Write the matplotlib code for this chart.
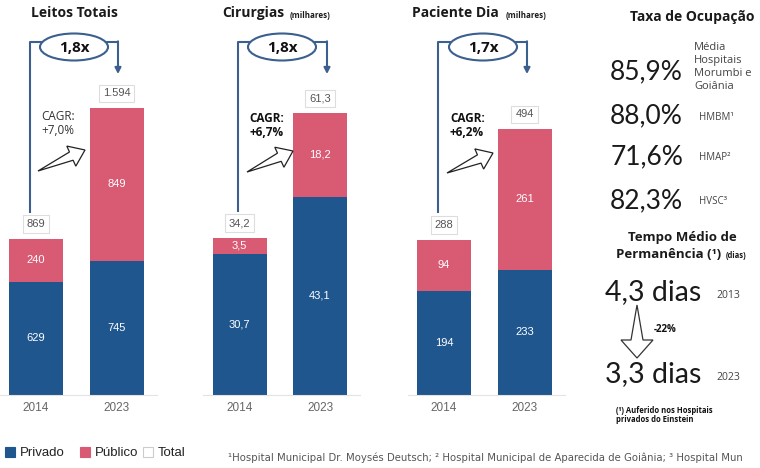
import matplotlib
matplotlib.use('Agg')
import math
import matplotlib.pyplot as plt
from matplotlib.patches import Rectangle, Ellipse, Polygon

# ---------------- data ----------------
years = ['2014', '2023']
panel_titles = ['Leitos Totais', 'Cirurgias', 'Paciente Dia']
panel_units = ['', '(milhares)', '(milhares)']
privado = [[629, 745], [30.7, 43.1], [194, 233]]
publico = [[240, 849], [3.5, 18.2], [94, 261]]
totais = [[869, 1594], [34.2, 61.3], [288, 494]]
decimals = [0, 1, 0]
growth_lbl = ['1,8x', '1,8x', '1,7x']
cagr_lbl = ['CAGR:\n+7,0%', 'CAGR:\n+6,7%', 'CAGR:\n+6,2%']
cagr_bold = [False, True, True]

ocup_title = 'Taxa de Ocupação'
ocup_vals = ['85,9%', '88,0%', '71,6%', '82,3%']
ocup_lbls = ['Média\nHospitais\nMorumbi e\nGoiânia', 'HMBM¹', 'HMAP²', 'HVSC³']
perm_vals = ['4,3 dias', '3,3 dias']
perm_years = ['2013', '2023']
perm_change = '-22%'
legend_lbls = ['Privado', 'Público', 'Total']
footnote = ('¹Hospital Municipal Dr. Moysés Deutsch; ² Hospital Municipal de Aparecida de Goiânia; '
            '³ Hospital Mun')

# ---------------- style ----------------
BLUE = '#1f568e'
PINK = '#d95a73'
LINE = '#3b5f8e'
SANS = ['Open Sans', 'DejaVu Sans']
ARIAL = ['Liberation Sans', 'DejaVu Sans']
BIG = ['Lato', 'DejaVu Sans']

W, H = 760, 468
fig = plt.figure(figsize=(W / 100, H / 100), dpi=100)


def fmt(v, d):
    if d == 0:
        return f'{v:,.0f}'.replace(',', '.')
    return f'{v:.{d}f}'.replace('.', ',')


def tapered_arrow(ax, tail, tip, shaft_w, head_w, head_len, **kw):
    tx, ty = tail
    hx, hy = tip
    L = math.hypot(hx - tx, hy - ty)
    ux, uy = (hx - tx) / L, (hy - ty) / L
    nx, ny = -uy, ux
    bx, by = hx - ux * head_len, hy - uy * head_len
    pts = [(tx, ty),
           (bx + nx * shaft_w / 2, by + ny * shaft_w / 2),
           (bx + nx * head_w / 2, by + ny * head_w / 2),
           (hx, hy),
           (bx - nx * head_w / 2, by - ny * head_w / 2),
           (bx - nx * shaft_w / 2, by - ny * shaft_w / 2)]
    ax.add_patch(Polygon(pts, closed=True, **kw))


# panel layout (pixels)
centers0 = [36, 239.5, 444]
spacing = 80.5
top2023 = [108, 113, 129]
base_px = 395
top_px = 20

for p in range(3):
    left = centers0[p] - 0.45 * spacing
    width = 1.95 * spacing
    ax = fig.add_axes([left / W, 1 - base_px / H, width / W, (base_px - top_px) / H])
    ymax = totais[p][1] * (base_px - top_px) / (base_px - top2023[p])
    ax.set_xlim(-0.45, 1.5)
    ax.set_ylim(0, ymax)
    x = [0, 1]
    bw = 54 / spacing
    ax.bar(x, privado[p], width=bw, color=BLUE, zorder=2)
    ax.bar(x, publico[p], width=bw, bottom=privado[p], color=PINK, zorder=2)
    for i in range(2):
        ax.text(i, privado[p][i] / 2, fmt(privado[p][i], decimals[p]), ha='center', va='center',
                color='white', fontsize=8, family=ARIAL, zorder=3)
        ax.text(i, privado[p][i] + publico[p][i] / 2, fmt(publico[p][i], decimals[p]), ha='center',
                va='center', color='white', fontsize=8, family=ARIAL, zorder=3)
        ax.annotate(fmt(totais[p][i], decimals[p]), xy=(i, totais[p][i]), xytext=(0, 10.5),
                    textcoords='offset points', ha='center', va='center', fontsize=8,
                    color='#555555', family=ARIAL,
                    bbox=dict(boxstyle='square,pad=0.35', fc='white', ec='#dddddd', lw=0.8))
    for s in ['top', 'right', 'left']:
        ax.spines[s].set_visible(False)
    ax.spines['bottom'].set_color('#e3e3e3')
    ax.set_yticks([])
    ax.set_xticks(x)
    ax.set_xticklabels(years, family=ARIAL, fontsize=8.5, color='#666666')
    ax.tick_params(axis='x', length=0, pad=5)
    ax.patch.set_visible(False)

# overlay in pixel coords
ov = fig.add_axes([0, 0, 1, 1])
ov.set_xlim(0, W)
ov.set_ylim(H, 0)
ov.axis('off')
ov.patch.set_visible(False)

# titles
title_x = [31, 222, 412]
unit_x = [None, 290, 506]
for p in range(3):
    ov.text(title_x[p], 13, panel_titles[p], ha='left', va='center', fontsize=10,
            fontweight='bold', family=SANS, color='#1a1a1a')
    if panel_units[p]:
        ov.text(unit_x[p], 15, panel_units[p], ha='left', va='center', fontsize=5.8,
                fontweight='bold', family=SANS, color='#1a1a1a')

# growth brackets
Lx = [30, 238, 438]
Rx = [118, 327, 527]
Lbot = [213, 212, 213]
ecx = [74, 282, 483]
for p in range(3):
    ov.plot([Lx[p], Lx[p], Rx[p]], [Lbot[p], 42, 42], color=LINE, lw=1.5, solid_capstyle='butt')
    ov.annotate('', xy=(Rx[p], 74), xytext=(Rx[p], 41.3),
                arrowprops=dict(arrowstyle='-|>,head_length=0.35,head_width=0.18', color=LINE,
                                lw=1.5, shrinkA=0, shrinkB=0))
    ov.add_patch(Ellipse((ecx[p], 47), 68, 27, fc='white', ec=LINE, lw=1.5, zorder=3))
    ov.text(ecx[p], 47.5, growth_lbl[p], ha='center', va='center', fontsize=11,
            fontweight='bold', family=SANS, color='#111111', zorder=4)

# CAGR labels and hollow arrows
cagr_x = [41, 249, 450]
cagr_y = [110, 112, 112]
tails = [(38, 171), (247, 172), (447, 173)]
tips = [(85, 150), (293, 151), (493, 153)]
for p in range(3):
    ov.text(cagr_x[p], cagr_y[p], cagr_lbl[p], ha='left', va='top', fontsize=8.5,
            fontweight='bold' if cagr_bold[p] else 'normal', family=SANS,
            color='#111111' if cagr_bold[p] else '#333333', linespacing=1.15)
    tapered_arrow(ov, tails[p], tips[p], 9, 22, 15, fc='white', ec='#222222', lw=0.9)

# right panel: Taxa de Ocupação
ov.text(692, 17, ocup_title, ha='center', va='center', fontsize=10, fontweight='bold',
        family=SANS, color='#1a1a1a')
ocup_y = [72, 116, 157, 201]
for i in range(4):
    ov.text(683, ocup_y[i], ocup_vals[i], ha='right', va='center', fontsize=19,
            family=BIG, fontweight='normal', color='#1a1a1a')
ov.text(694, 67, ocup_lbls[0], ha='left', va='center', fontsize=8, family=SANS,
        color='#444444', linespacing=1.25)
for i in range(1, 4):
    ov.text(699, ocup_y[i] + 1, ocup_lbls[i], ha='left', va='center', fontsize=7, family=SANS,
            color='#444444')

# Tempo médio de permanência
ov.text(682, 238, 'Tempo Médio de', ha='center', va='center', fontsize=9.5, fontweight='bold',
        family=SANS, color='#1a1a1a')
ov.text(616, 254, 'Permanência (¹)', ha='left', va='center', fontsize=9.5, fontweight='bold',
        family=SANS, color='#1a1a1a')
ov.text(726, 256, '(dias)', ha='left', va='center', fontsize=5.5, fontweight='bold',
        family=SANS, color='#1a1a1a')
perm_y = [292, 374]
for i in range(2):
    ov.text(605, perm_y[i], perm_vals[i], ha='left', va='center', fontsize=20.5,
            family=BIG, fontweight='normal', color='#1a1a1a')
    ov.text(716, perm_y[i] + 3, perm_years[i], ha='left', va='center', fontsize=7.5,
            family=SANS, color='#444444')
tapered_arrow(ov, (637, 305), (637, 358), 12, 32, 18, fc='white', ec='#333333', lw=0.9)
ov.text(654, 330, perm_change, ha='left', va='center', fontsize=7, fontweight='bold',
        family=SANS, color='#111111')
ov.text(616, 415, '(¹) Auferido nos Hospitais\nprivados do Einstein', ha='left', va='center',
        fontsize=5.5, fontweight='bold', family=SANS, color='#111111', linespacing=1.0)

# legend
leg_fc = [BLUE, PINK, 'white']
leg_ec = [BLUE, PINK, '#cccccc']
leg_x = [5, 80, 143]
for i in range(3):
    ov.add_patch(Rectangle((leg_x[i], 447), 10, 10, fc=leg_fc[i], ec=leg_ec[i], lw=0.8))
    ov.text(leg_x[i] + 15, 452.5, legend_lbls[i], ha='left', va='center', fontsize=9.5,
            family=ARIAL, color='#222222')

ov.text(228, 458, footnote, ha='left', va='center', fontsize=7.3, family=['DejaVu Sans'],
        color='#555555')

fig.savefig('out.png', dpi=100, facecolor='white')
